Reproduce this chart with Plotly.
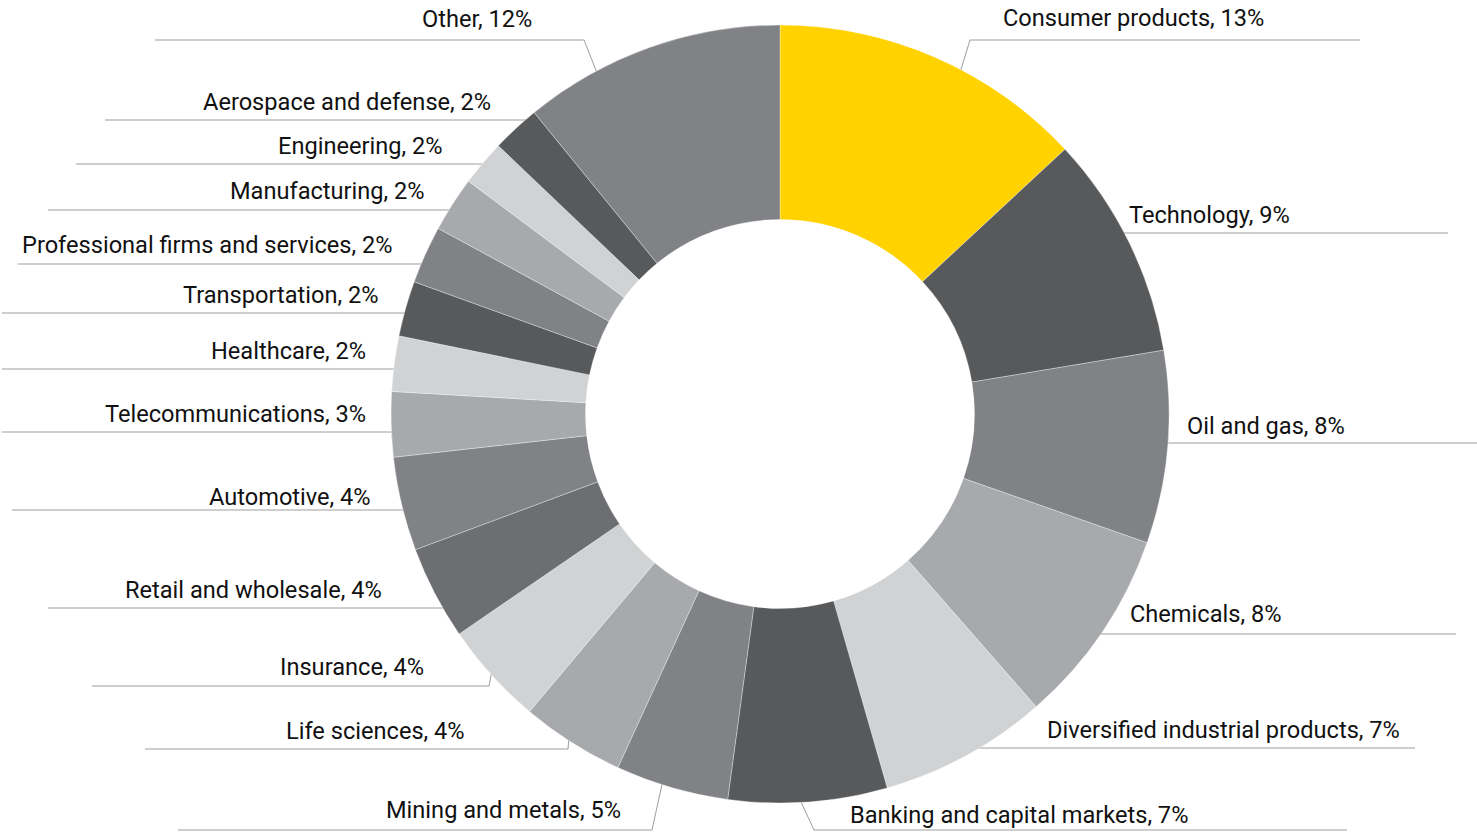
import math
import plotly.graph_objects as go

# ---------------- data ----------------
categories = [
    "Consumer products", "Technology", "Oil and gas", "Chemicals",
    "Diversified industrial products", "Banking and capital markets",
    "Mining and metals", "Life sciences", "Insurance", "Retail and wholesale",
    "Automotive", "Telecommunications", "Healthcare", "Transportation",
    "Professional firms and services", "Manufacturing", "Engineering",
    "Aerospace and defense", "Other",
]
shares = [13.1, 9.3, 8.0, 8.2, 7.0, 6.6, 4.7, 4.3, 4.3, 3.9,
          3.9, 2.7, 2.3, 2.3, 2.4, 2.3, 1.9, 2.0, 10.9]
# percentages printed in the labels
label_pct = [13, 9, 8, 8, 7, 7, 5, 4, 4, 4, 4, 3, 2, 2, 2, 2, 2, 2, 12]

# ---------------- style / layout ----------------
W, H = 1477, 832
CX, CY, R = 780, 414, 389
HOLE = 0.5
FONT = "Roboto, 'Liberation Sans', Arial, sans-serif"
FONT_SIZE = 23.6
LINE_COLOR = "#9d9d9d"

colors = ["#FFD200", "#58595B", "#808285", "#A7A9AC", "#D1D2D4", "#58595B",
          "#808285", "#A7A9AC", "#D1D2D4", "#6D6E71", "#808285", "#A7A9AC",
          "#D1D2D4", "#58595B", "#808285", "#A7A9AC", "#D1D2D4", "#58595B",
          "#808285"]

# per label: side, leader y, far end x, text x, text centre y, knee x, anchor fraction
label_layout = [
    ("R", 40, 1360, 1002, 18, 970, 0.59),
    ("R", 233, 1448, 1128, 215, None, None),
    ("R", 443, 1477, 1186, 426, None, None),
    ("R", 634, 1456, 1129, 614, None, None),
    ("R", 748, 1415, 1046, 730, None, None),
    ("R", 830, 1347, 849, 815, 814, 0.55),
    ("L", 830, 178, 622, 810, 652, 0.59),
    ("L", 749, 145, 466, 731, 568, 0.55),
    ("L", 686, 92, 425, 667, 489, 0.53),
    ("L", 608, 48, 383, 590, None, None),
    ("L", 510, 12, 372, 497, None, None),
    ("L", 432, 2, 367, 414, None, None),
    ("L", 369, 2, 367, 351, None, None),
    ("L", 313, 2, 380, 295, None, None),
    ("L", 264, 18, 393, 245, None, None),
    ("L", 210, 48, 426, 191, None, None),
    ("L", 164, 76, 444, 146, None, None),
    ("L", 120, 105, 492, 102, None, None),
    ("L", 40, 155, 533, 19, 584, 0.28),
]


def px(x):
    return x / W


def py(y):
    return 1 - y / H


fig = go.Figure()
fig.add_trace(go.Pie(
    labels=categories,
    values=shares,
    hole=HOLE,
    sort=False,
    direction="clockwise",
    rotation=0,
    marker=dict(colors=colors, line=dict(color="rgba(255,255,255,0.55)", width=0.6)),
    textinfo="none",
    hoverinfo="label+percent",
    showlegend=False,
    domain=dict(x=[px(CX - R), px(CX + R)], y=[py(CY + R), py(CY - R)]),
))

total = sum(shares)
shapes = []
annotations = []
cum = 0.0
for cat, val, pct, lay in zip(categories, shares, label_pct, label_layout):
    side, ly, far_x, tx, ty, knee_x, frac = lay
    start = cum / total * 360.0
    span = val / total * 360.0
    cum += val
    line_style = dict(color=LINE_COLOR, width=1)
    if knee_x is None:
        dy = ly - CY
        half = math.sqrt(max(R * R - dy * dy, 0.0))
        edge_x = CX + half - 4 if side == "R" else CX - half + 4
        shapes.append(dict(type="line", xref="paper", yref="paper", layer="below",
                           x0=px(far_x), y0=py(ly), x1=px(edge_x), y1=py(ly), line=line_style))
    else:
        ang = math.radians(start + frac * span)
        ax = CX + (R - 3) * math.sin(ang)
        ay = CY - (R - 3) * math.cos(ang)
        shapes.append(dict(type="line", xref="paper", yref="paper", layer="below",
                           x0=px(far_x), y0=py(ly), x1=px(knee_x), y1=py(ly), line=line_style))
        shapes.append(dict(type="line", xref="paper", yref="paper", layer="below",
                           x0=px(knee_x), y0=py(ly), x1=px(ax), y1=py(ay), line=line_style))
    annotations.append(dict(
        x=px(tx), y=py(ty), xref="paper", yref="paper",
        text=f"{cat}, {pct}%", showarrow=False, borderpad=0,
        xanchor="left" if side == "R" else "right", yanchor="middle",
        font=dict(family=FONT, size=FONT_SIZE, color="#111111"),
    ))

fig.update_layout(
    width=W, height=H,
    margin=dict(l=0, r=0, t=0, b=0),
    paper_bgcolor="white", plot_bgcolor="white",
    shapes=shapes, annotations=annotations,
    showlegend=False,
)

fig.write_html(
    "out.html",
    config={"displayModeBar": False},
    post_script="document.body.style.margin='0';document.body.style.overflow='hidden';",
)
